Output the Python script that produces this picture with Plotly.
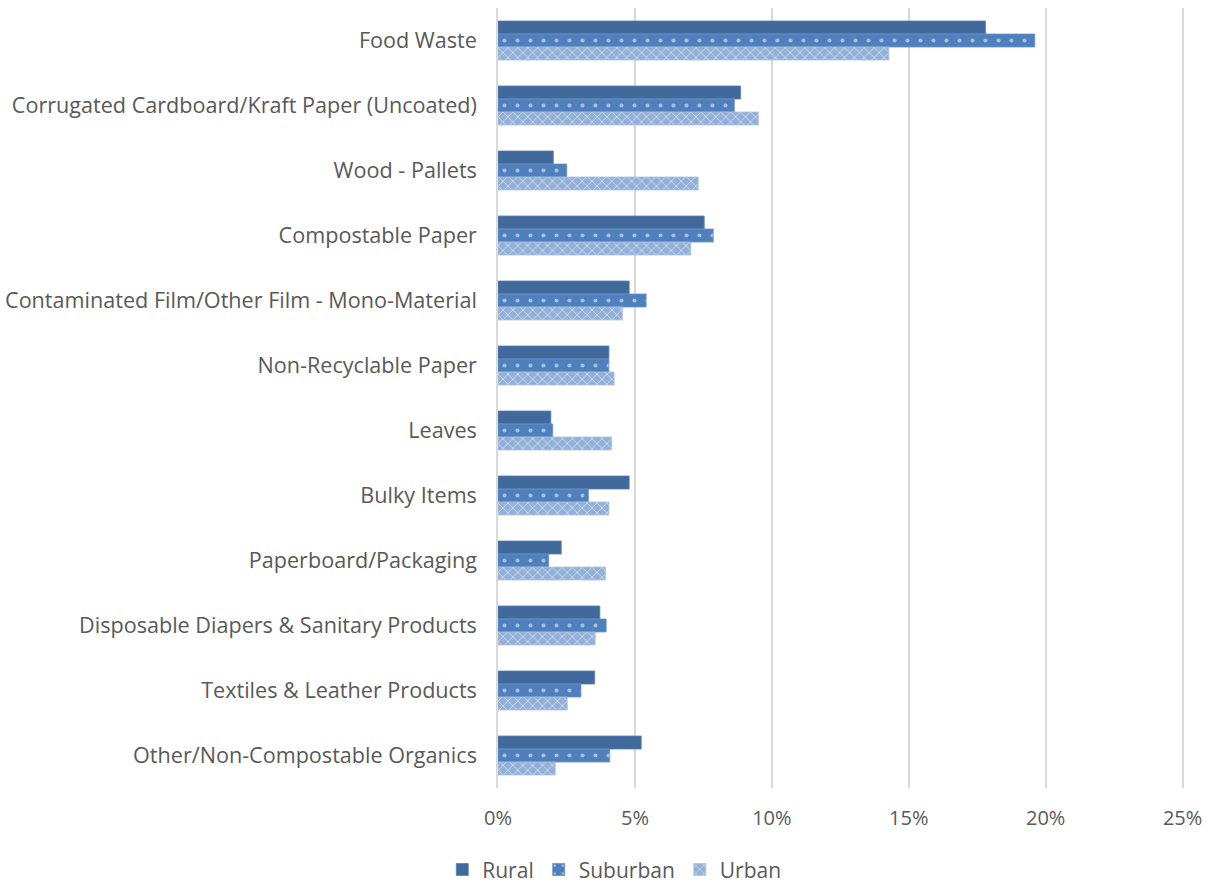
import plotly.graph_objects as go

categories = [
    "Food Waste",
    "Corrugated Cardboard/Kraft Paper (Uncoated)",
    "Wood - Pallets",
    "Compostable Paper",
    "Contaminated Film/Other Film - Mono-Material",
    "Non-Recyclable Paper",
    "Leaves",
    "Bulky Items",
    "Paperboard/Packaging",
    "Disposable Diapers & Sanitary Products",
    "Textiles & Leather Products",
    "Other/Non-Compostable Organics",
]

rural = [0.178, 0.0886, 0.0202, 0.0753, 0.0479, 0.0405, 0.0193, 0.0479, 0.0231, 0.0372, 0.0353, 0.0523]
suburban = [0.196, 0.0863, 0.0251, 0.0786, 0.0541, 0.0405, 0.0200, 0.0330, 0.0185, 0.0395, 0.0303, 0.0408]
urban = [0.1427, 0.0951, 0.0731, 0.0704, 0.0454, 0.0424, 0.0415, 0.0405, 0.0392, 0.0355, 0.0253, 0.0209]

x_ticks = [0, 0.05, 0.10, 0.15, 0.20, 0.25]
x_tick_labels = ["0%", "5%", "10%", "15%", "20%", "25%"]

FONT = "Open Sans, Liberation Sans, Arial, sans-serif"
TEXT = "#595959"

fig = go.Figure()
fig.add_trace(go.Bar(
    name="Rural", y=categories, x=rural, orientation="h",
    marker=dict(color="#41699B", line=dict(color="#5B7FAE", width=0.8)),
))
fig.add_trace(go.Bar(
    name="Suburban", y=categories, x=suburban, orientation="h",
    marker=dict(
        color="#4F7FBC", line=dict(color="#6B94C8", width=0.8),
        pattern=dict(shape=".", fillmode="overlay", fgcolor="white", size=13, solidity=0.08),
    ),
))
fig.add_trace(go.Bar(
    name="Urban", y=categories, x=urban, orientation="h",
    marker=dict(
        color="#93B1D8", line=dict(color="#A9C1E0", width=0.8),
        pattern=dict(shape="x", fillmode="overlay", fgcolor="white", size=7, solidity=0.25),
    ),
))

fig.update_layout(
    barmode="group",
    bargap=0.40,
    bargroupgap=0,
    width=1214,
    height=884,
    margin=dict(l=498, r=30, t=8, b=96, autoexpand=False),
    paper_bgcolor="white",
    plot_bgcolor="white",
    font=dict(family=FONT, size=20, color=TEXT),
    legend=dict(
        orientation="h", xref="container", yref="container",
        x=0.506, xanchor="center", y=0.016, yanchor="middle",
        font=dict(family=FONT, size=21, color=TEXT),
        itemwidth=30, traceorder="normal",
    ),
    xaxis=dict(
        range=[0, 0.2505], tickvals=x_ticks, ticktext=x_tick_labels,
        showgrid=True, gridcolor="#D9D9D9", gridwidth=1.5,
        zeroline=False, showline=False, ticks="", ticklabelstandoff=16,
        tickfont=dict(family=FONT, size=20, color=TEXT),
    ),
    yaxis=dict(
        autorange="reversed", showgrid=False, showline=True,
        linecolor="#D9D9D9", linewidth=1.5, ticks="", ticklabelstandoff=15,
        tickfont=dict(family=FONT, size=21.6, color=TEXT),
    ),
)

fig.write_html("out.html")
